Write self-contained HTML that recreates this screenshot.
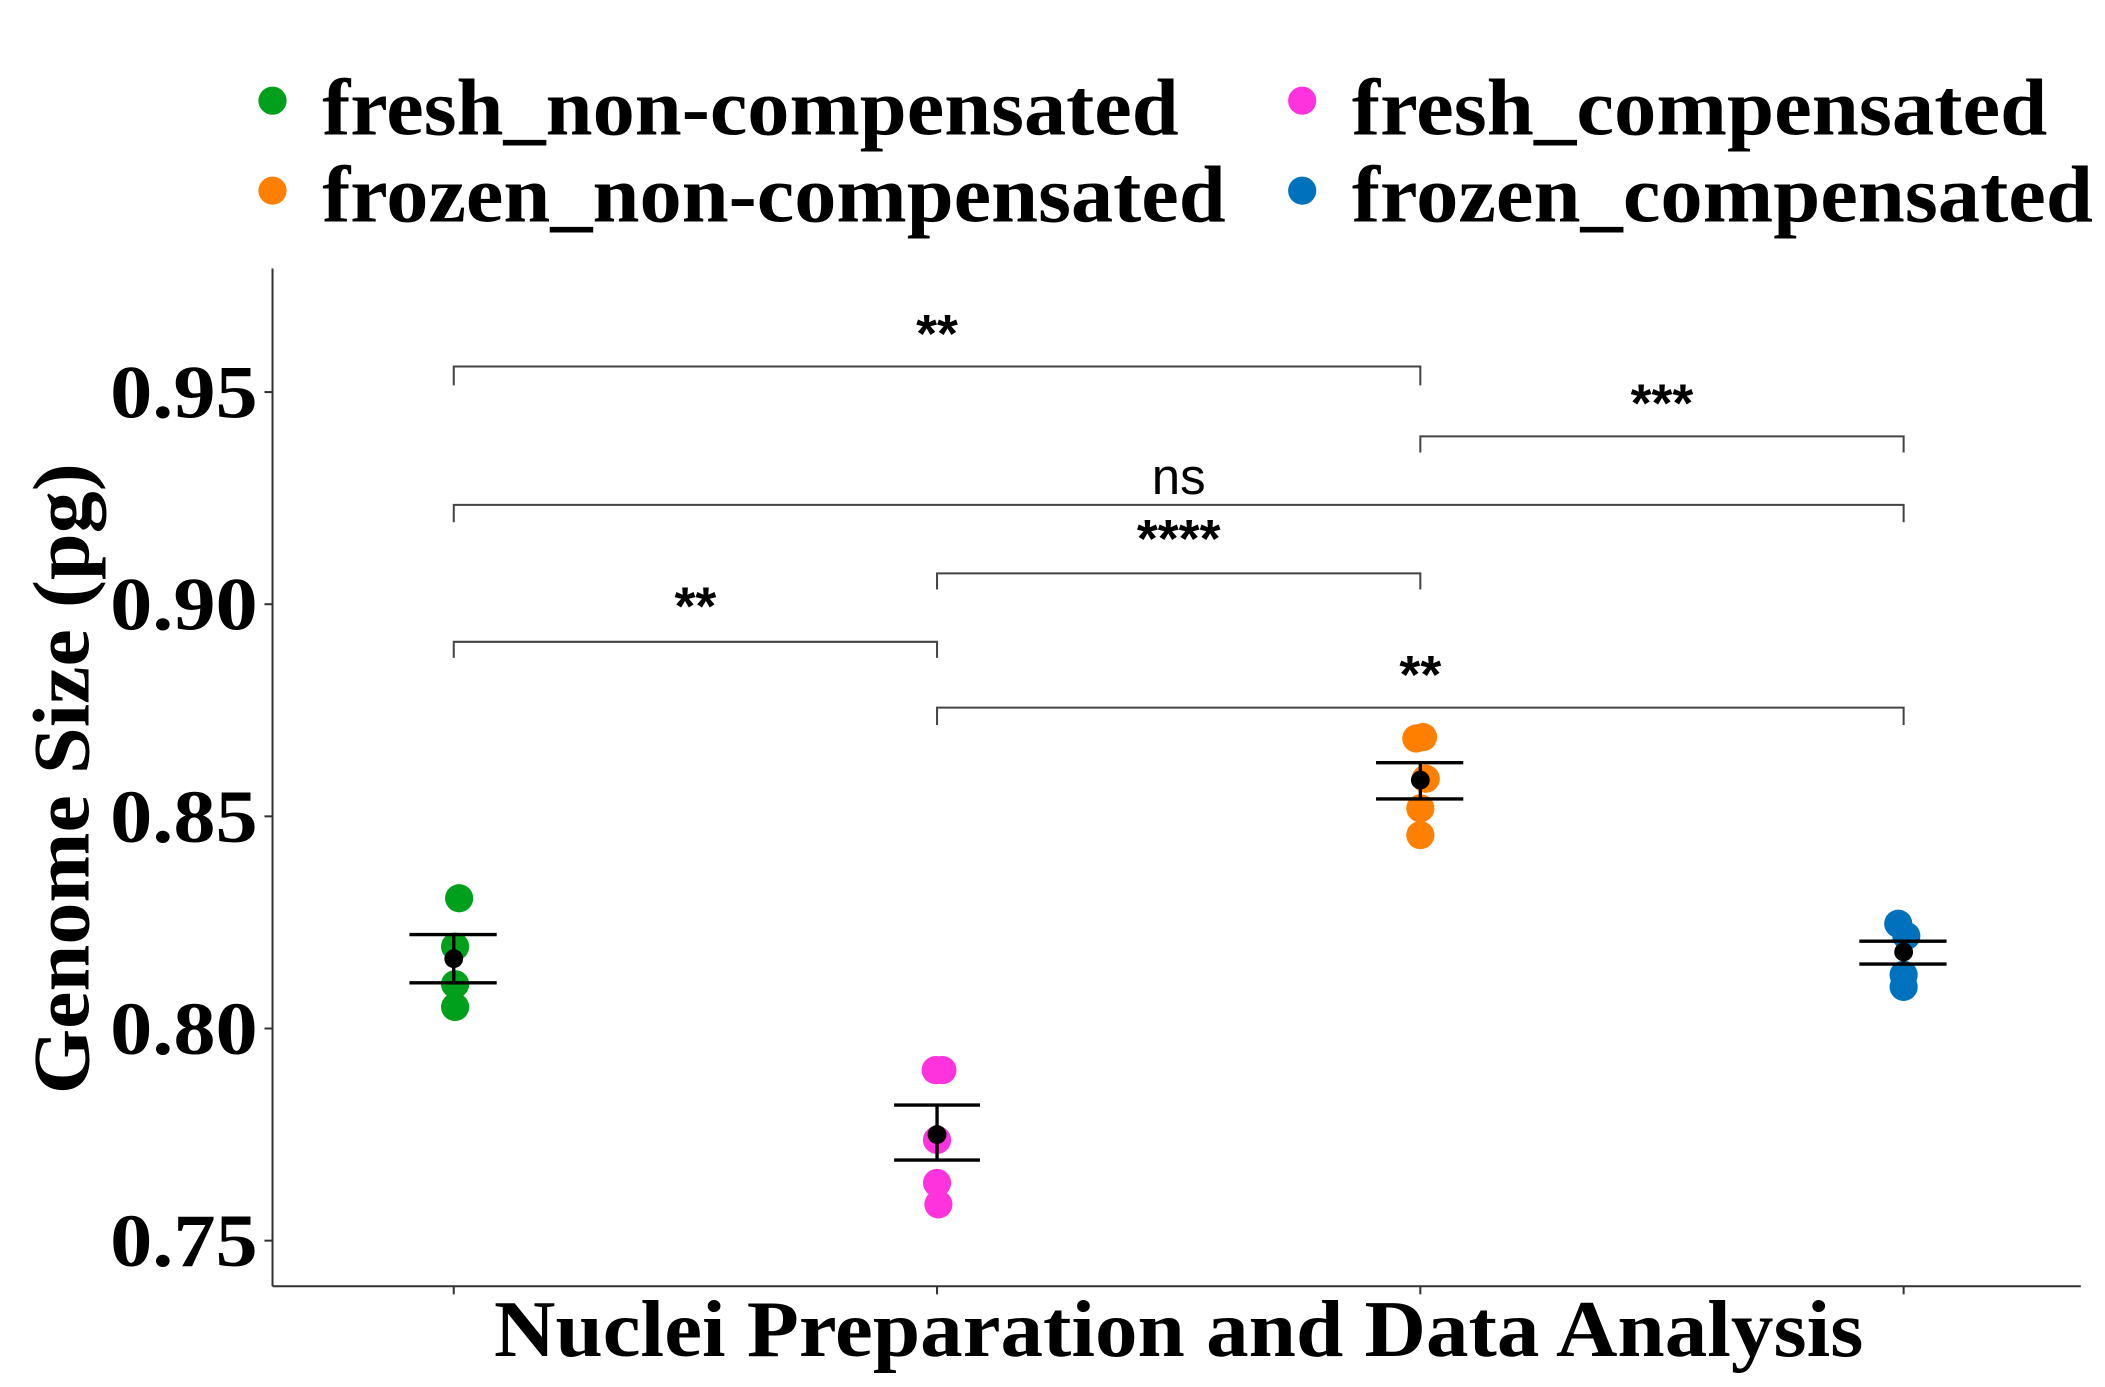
<!DOCTYPE html>
<html><head><style>html,body{margin:0;padding:0;background:#fff;}svg{display:block}</style></head>
<body>
<svg width="2105" height="1387" viewBox="0 0 1568 1033" preserveAspectRatio="none" xmlns="http://www.w3.org/2000/svg">
<rect width="1568" height="1033" fill="#fff"/>
<!-- legend -->
<g font-family="Liberation Serif, serif" font-weight="bold" font-size="60">
<circle cx="203" cy="75" r="10.5" fill="#00a01c"/>
<text x="240" y="100" textLength="638" lengthAdjust="spacingAndGlyphs">fresh_non-compensated</text>
<circle cx="970" cy="75" r="10.5" fill="#ff33dd"/>
<text x="1007" y="100" textLength="518" lengthAdjust="spacingAndGlyphs">fresh_compensated</text>
<circle cx="203" cy="142" r="10.5" fill="#ff8000"/>
<text x="240" y="165" textLength="673" lengthAdjust="spacingAndGlyphs">frozen_non-compensated</text>
<circle cx="970" cy="142" r="10.5" fill="#0072bd"/>
<text x="1007" y="165" textLength="552" lengthAdjust="spacingAndGlyphs">frozen_compensated</text>
</g>
<!-- axes -->
<g stroke="#333" stroke-width="1.5" fill="none">
<line x1="203" y1="200" x2="203" y2="958"/>
<line x1="203" y1="958" x2="1550" y2="958"/>
<line x1="197" y1="292" x2="203" y2="292"/><line x1="197" y1="450" x2="203" y2="450"/>
<line x1="197" y1="608" x2="203" y2="608"/><line x1="197" y1="766" x2="203" y2="766"/>
<line x1="197" y1="924" x2="203" y2="924"/>
<line x1="338" y1="958" x2="338" y2="964"/><line x1="698" y1="958" x2="698" y2="964"/>
<line x1="1058" y1="958" x2="1058" y2="964"/><line x1="1418" y1="958" x2="1418" y2="964"/>
</g>
<g font-family="Liberation Serif, serif" font-weight="bold" font-size="56">
<text x="82" y="311" textLength="110" lengthAdjust="spacingAndGlyphs">0.95</text>
<text x="82" y="469" textLength="110" lengthAdjust="spacingAndGlyphs">0.90</text>
<text x="82" y="627" textLength="110" lengthAdjust="spacingAndGlyphs">0.85</text>
<text x="82" y="785" textLength="110" lengthAdjust="spacingAndGlyphs">0.80</text>
<text x="82" y="943" textLength="110" lengthAdjust="spacingAndGlyphs">0.75</text>
</g>
<text transform="translate(66,580) rotate(-90)" font-family="Liberation Serif, serif" font-weight="bold" font-size="60" text-anchor="middle" textLength="470" lengthAdjust="spacingAndGlyphs">Genome Size (pg)</text>
<text x="878" y="1010" font-family="Liberation Serif, serif" font-weight="bold" font-size="60" text-anchor="middle" textLength="1020" lengthAdjust="spacingAndGlyphs">Nuclei Preparation and Data Analysis</text>
<!-- brackets -->
<g stroke="#444" stroke-width="1.5" fill="none">
<polyline points="338,287 338,273 1058,273 1058,287"/>
<polyline points="1058,337 1058,325 1418,325 1418,337"/>
<polyline points="338,389 338,376 1418,376 1418,389"/>
<polyline points="698,439 698,427 1058,427 1058,439"/>
<polyline points="338,490 338,478 698,478 698,490"/>
<polyline points="698,540 698,527 1418,527 1418,540"/>
</g>
<g font-family="Liberation Sans, sans-serif" font-size="40" font-weight="bold" text-anchor="middle" fill="#000">
<text x="698" y="262">**</text>
<text x="1238" y="314">***</text>
<text x="878" y="368" font-size="38" font-weight="normal">ns</text>
<text x="878" y="415">****</text>
<text x="518" y="465">**</text>
<text x="1058" y="516">**</text>
</g>
<!-- points -->
<g fill="#00a01c">
<circle cx="342" cy="669" r="10.5"/><circle cx="339" cy="705" r="10.5"/><circle cx="339" cy="733" r="10.5"/><circle cx="339" cy="750" r="10.5"/>
</g>
<g fill="#ff33dd">
<circle cx="697" cy="797" r="10.5"/><circle cx="702" cy="797" r="10.5"/><circle cx="698" cy="849" r="10.5"/><circle cx="698" cy="881" r="10.5"/><circle cx="699" cy="897" r="10.5"/>
</g>
<g fill="#ff8000">
<circle cx="1055" cy="550" r="10.5"/><circle cx="1060" cy="549" r="10.5"/><circle cx="1062" cy="580" r="10.5"/><circle cx="1058" cy="602" r="10.5"/><circle cx="1058" cy="622" r="10.5"/>
</g>
<g fill="#0072bd">
<circle cx="1414" cy="688" r="10.5"/><circle cx="1420" cy="697" r="10.5"/><circle cx="1418" cy="726" r="10.5"/><circle cx="1418" cy="735" r="10.5"/>
</g>
<!-- error bars -->
<g stroke="#000" stroke-width="2.5">
<line x1="305" y1="696" x2="370" y2="696"/><line x1="305" y1="732" x2="370" y2="732"/><line x1="338" y1="696" x2="338" y2="732"/>
<line x1="666" y1="823" x2="730" y2="823"/><line x1="666" y1="864" x2="730" y2="864"/><line x1="698" y1="823" x2="698" y2="864"/>
<line x1="1025" y1="568" x2="1090" y2="568"/><line x1="1025" y1="595" x2="1090" y2="595"/><line x1="1058" y1="568" x2="1058" y2="595"/>
<line x1="1385" y1="701" x2="1450" y2="701"/><line x1="1385" y1="718" x2="1450" y2="718"/><line x1="1418" y1="701" x2="1418" y2="718"/>
</g>
<g fill="#000">
<circle cx="338" cy="714" r="7"/><circle cx="698" cy="845" r="7"/><circle cx="1058" cy="581" r="7"/><circle cx="1418" cy="709" r="7"/>
</g>
</svg>
</body></html>
